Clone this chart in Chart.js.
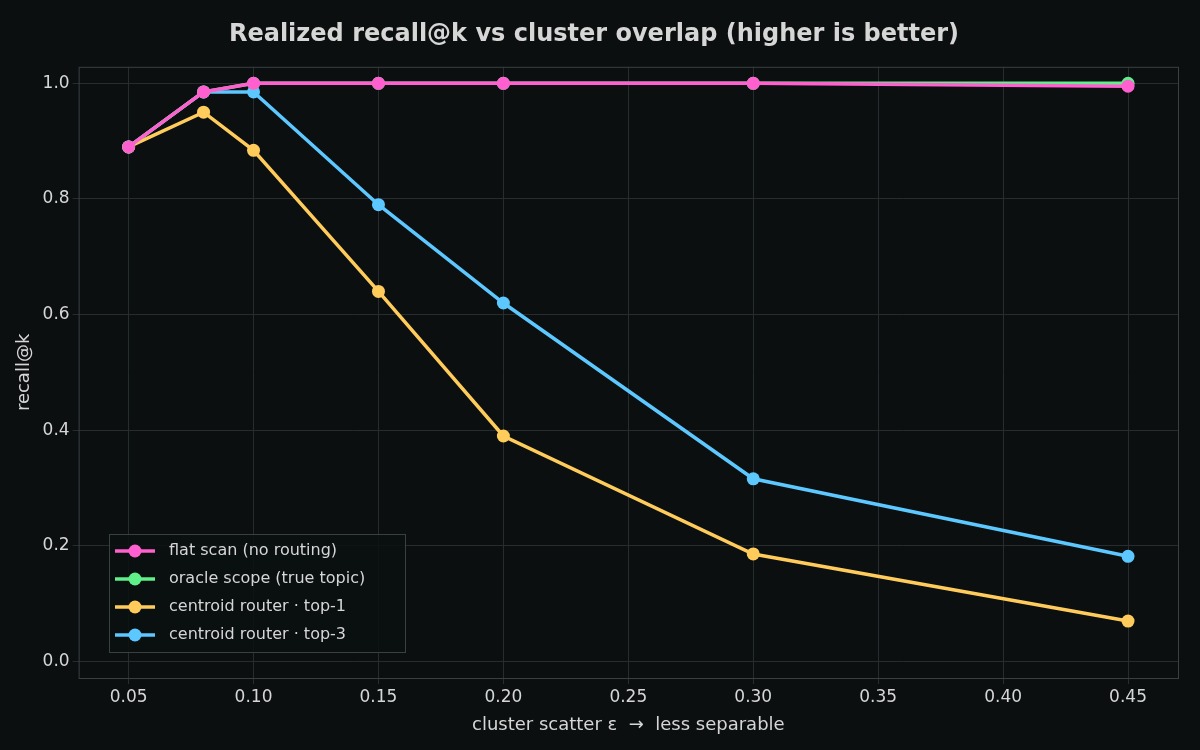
<!DOCTYPE html>
<html>
<head>
<meta charset="utf-8">
<script src="https://cdn.jsdelivr.net/npm/chart.js@4/dist/chart.umd.min.js"></script>
<style>
  html, body { margin:0; padding:0; background:#0b0f10; }
  #wrap { width:1200px; height:750px; }
</style>
</head>
<body>
<div id="wrap"><canvas id="c" width="1200" height="750"></canvas></div>
<script>
var eps = [0.05, 0.08, 0.10, 0.15, 0.20, 0.30, 0.45];
var flatScan = [0.89, 0.985, 1.0, 1.0, 1.0, 1.0, 0.995];
var oracleScope = [0.89, 0.985, 1.0, 1.0, 1.0, 1.0, 1.0];
var top1 = [0.89, 0.95, 0.884, 0.64, 0.39, 0.186, 0.07];
var top3 = [0.89, 0.985, 0.985, 0.79, 0.62, 0.316, 0.182];
var xTicks = [0.05, 0.10, 0.15, 0.20, 0.25, 0.30, 0.35, 0.40, 0.45];
var yTicks = [0.0, 0.2, 0.4, 0.6, 0.8, 1.0];

var labels = ["flat scan (no routing)", "oracle scope (true topic)", "centroid router · top-1", "centroid router · top-3"];
var colors = ["#ff5fcf", "#5ff08a", "#ffcc5c", "#5cc8ff"];
var series = [flatScan, oracleScope, top1, top3];

function pts(arr){ return arr.map(function(v,i){ return {x:eps[i], y:v}; }); }

var datasets = series.map(function(s,i){
  return {
    label: labels[i], data: pts(s),
    borderColor: colors[i], backgroundColor: colors[i],
    borderWidth: 3.5, pointRadius: 6.5, pointHoverRadius: 6.5,
    pointBorderWidth: 0, tension: 0
  };
});

var font = "'DejaVu Sans', sans-serif";
var txt = "#d6d6d6";
var grid = "#272c2e";

var bgPlugin = {
  id: "bg",
  beforeDraw: function(ch){
    var ctx = ch.ctx;
    ctx.save(); ctx.fillStyle = "#0b0f10"; ctx.fillRect(0,0,ch.width,ch.height); ctx.restore();
  },
  afterDraw: function(ch){
    var ctx = ch.ctx, a = ch.chartArea;
    ctx.save();
    ctx.strokeStyle = "#3a3f41"; ctx.lineWidth = 1;
    ctx.strokeRect(a.left+0.5, a.top+0.5, a.right-a.left, a.bottom-a.top);
    // legend box
    var x0 = 109, y0 = 534, w = 296, h = 118;
    ctx.fillStyle = "rgba(11,15,16,0.85)";
    ctx.fillRect(x0, y0, w, h);
    ctx.strokeStyle = "#3a3f41"; ctx.strokeRect(x0+0.5, y0+0.5, w, h);
    ctx.font = "16px " + font; ctx.textBaseline = "middle";
    labels.forEach(function(l,i){
      var y = y0 + 17 + i*28;
      ctx.strokeStyle = colors[i]; ctx.lineWidth = 3.5;
      ctx.beginPath(); ctx.moveTo(115, y); ctx.lineTo(155, y); ctx.stroke();
      ctx.fillStyle = colors[i];
      ctx.beginPath(); ctx.arc(135, y, 6.5, 0, Math.PI*2); ctx.fill();
      ctx.fillStyle = txt; ctx.fillText(l, 169, y);
    });
    ctx.restore();
  }
};

new Chart(document.getElementById("c"), {
  type: "line",
  data: { datasets: datasets },
  plugins: [bgPlugin],
  options: {
    responsive: false, animation: false,
    layout: { padding: { left: 10, right: 22, top: 0, bottom: 10 } },
    plugins: {
      legend: { display: false },
      tooltip: { enabled: false },
      title: { display: true, text: "Realized recall@k vs cluster overlap (higher is better)",
        color: txt, font: { family: font, size: 24 }, padding: { top: 20, bottom: 18 } }
    },
    scales: {
      x: {
        type: "linear", min: 0.03, max: 0.47,
        afterBuildTicks: function(ax){ ax.ticks = xTicks.map(function(v){ return {value:v}; }); },
        ticks: { color: txt, font: { family: font, size: 17 }, callback: function(v){ return v.toFixed(2); } },
        grid: { color: grid, drawTicks: true, tickLength: 6 },
        border: { display: false },
        title: { display: true, text: "cluster scatter ε  →  less separable", color: txt, font: { family: font, size: 18 } }
      },
      y: {
        min: -0.0285, max: 1.0285,
        afterBuildTicks: function(ax){ ax.ticks = yTicks.map(function(v){ return {value:v}; }); },
        ticks: { color: txt, font: { family: font, size: 17 }, callback: function(v){ return v.toFixed(1); } },
        grid: { color: grid, tickLength: 6 },
        border: { display: false },
        title: { display: true, text: "recall@k", color: txt, font: { family: font, size: 18 } }
      }
    }
  }
});
</script>
</body>
</html>
